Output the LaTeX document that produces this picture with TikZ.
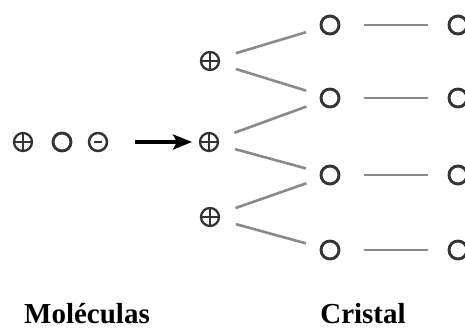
\documentclass[tikz,border=0pt]{standalone}
\usepackage{fontspec}
\setmainfont{Liberation Serif}
\usetikzlibrary{arrows.meta}
\definecolor{ink}{HTML}{333333}
\definecolor{bond}{HTML}{8A8A8A}
\begin{document}
\begin{tikzpicture}[x=1pt,y=-1pt,
  ring/.style={circle,draw=ink,line width=2.9pt,minimum size=18pt,inner sep=0pt,outer sep=0pt},
  cation/.style={circle,draw=ink,line width=2.3pt,minimum size=18pt,inner sep=0pt,outer sep=0pt,
    path picture={\draw[ink,line width=1.7pt]
      (path picture bounding box.north) -- (path picture bounding box.south)
      (path picture bounding box.west) -- (path picture bounding box.east);}},
  anion/.style={circle,draw=ink,line width=2.5pt,minimum size=18pt,inner sep=0pt,outer sep=0pt,
    path picture={\draw[ink,line width=2.4pt] (-4pt,0) -- (4pt,0);}},
  fan/.style={bond,line width=2.6pt,shorten <=18pt,shorten >=16pt},
  link/.style={bond,line width=2.8pt,shorten <=25pt,shorten >=21pt},
  label/.style={font=\bfseries\fontsize{29}{32}\selectfont,anchor=base,inner sep=0pt}]
\useasboundingbox (0,0) rectangle (465,329);

% free molecules
\node[cation] (m1) at (23,142) {};
\node[ring]   (m2) at (62,142) {};
\node[anion]  (m3) at (98,142) {};

% cations of the crystal
\node[cation] (c1) at (210,61) {};
\node[cation] (c2) at (209,142) {};
\node[cation] (c3) at (210,217) {};

% lattice sites
\node[ring] (o1) at (330,25) {};
\node[ring] (o2) at (330,98) {};
\node[ring] (o3) at (330,175) {};
\node[ring] (o4) at (330,250) {};
\node[ring] (r1) at (458,25) {};
\node[ring] (r2) at (458,98) {};
\node[ring] (r3) at (458,175) {};
\node[ring] (r4) at (458,250) {};

% arrow
\coordinate (a0) at (135,142);
\draw[line width=3.4pt,-{Stealth[length=19pt,width=15pt,inset=4pt]},shorten >=8pt] (a0) -- (c2);

% bonds
\draw[fan] (c1) -- (o1);
\draw[fan] (c1) -- (o2);
\draw[fan] (c2) -- (o2);
\draw[fan] (c2) -- (o3);
\draw[fan] (c3) -- (o3);
\draw[fan] (c3) -- (o4);
\draw[link] (o1) -- (r1);
\draw[link] (o2) -- (r2);
\draw[link] (o3) -- (r3);
\draw[link] (o4) -- (r4);

% captions
\node[label] (t1) at (87,323) {Moléculas};
\node[label] (t2) at (363,323) {Cristal};
\end{tikzpicture}
\end{document}
